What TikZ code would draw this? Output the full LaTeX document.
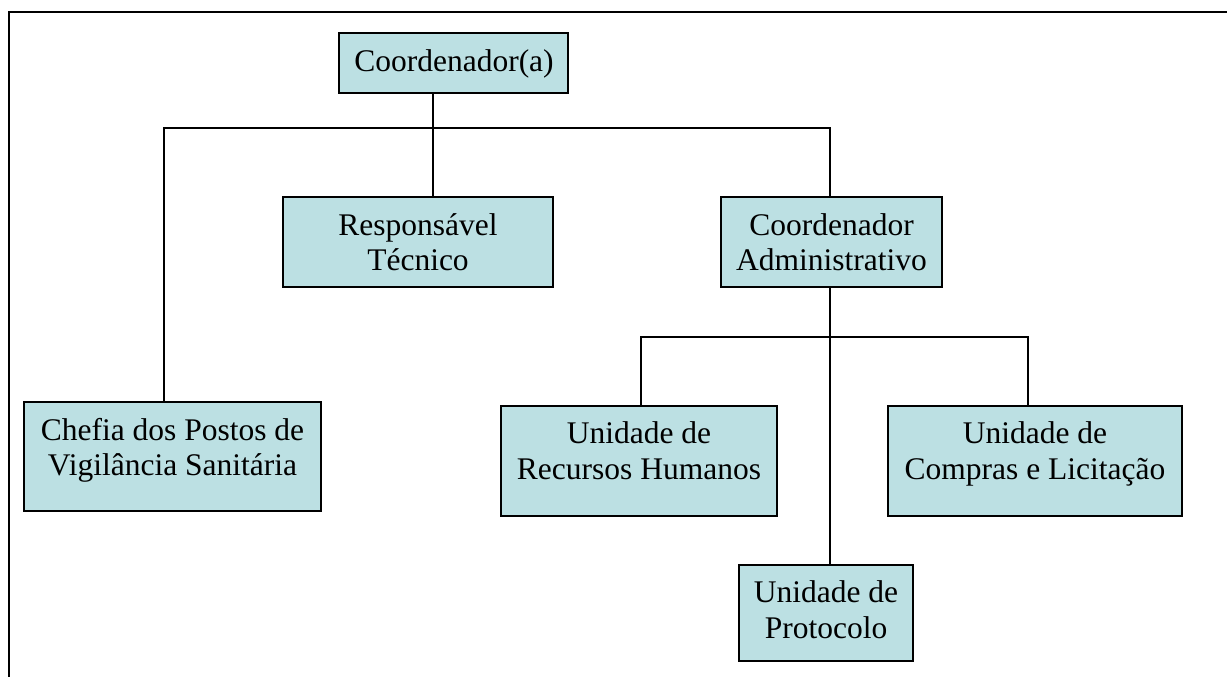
\documentclass[tikz,border=0pt]{standalone}
\usepackage{fontspec}
\setmainfont{Liberation Serif}
\definecolor{boxfill}{RGB}{188,224,227}
\begin{document}
\begin{tikzpicture}[x=1pt,y=-1pt,
  orgbox/.style={draw=black,line width=2.2pt,fill=boxfill,inner sep=0pt,rectangle},
  txt/.style={inner sep=0pt,anchor=base,font=\fontsize{31.5}{36}\selectfont},
  conn/.style={draw=black,line width=2pt},
  frameline/.style={draw=black,line width=2.5pt}]
\useasboundingbox (0,0) rectangle (1227,677);
% frame
\draw[frameline] (1227,12) -- (9,12) -- (9,677);
% boxes
\node[orgbox,minimum width=229pt,minimum height=60pt] (coord) at (453.5,63) {};
\node[orgbox,minimum width=270pt,minimum height=90pt] (resp) at (418,242) {};
\node[orgbox,minimum width=221pt,minimum height=90pt] (cadm) at (831.5,242) {};
\node[orgbox,minimum width=297pt,minimum height=109pt] (chefia) at (172.5,456.5) {};
\node[orgbox,minimum width=276pt,minimum height=110pt] (rh) at (639,461) {};
\node[orgbox,minimum width=294pt,minimum height=110pt] (comp) at (1035,461) {};
\node[orgbox,minimum width=174pt,minimum height=96pt] (prot) at (826,613) {};
% texts
\node[txt] (coord-t1) at (454,71) {Coordenador(a)};
\node[txt] (resp-t1) at (418,235) {Responsável};
\node[txt] (resp-t2) at (418,270.7) {Técnico};
\node[txt] (cadm-t1) at (831.5,235) {Coordenador};
\node[txt] (cadm-t2) at (831.5,270.7) {Administrativo};
\node[txt] (chefia-t1) at (172.5,440) {Chefia dos Postos de};
\node[txt] (chefia-t2) at (172.5,475.7) {Vigilância Sanitária};
\node[txt] (rh-t1) at (639,443.5) {Unidade de};
\node[txt] (rh-t2) at (639,479.2) {Recursos Humanos};
\node[txt] (comp-t1) at (1035,443.5) {Unidade de};
\node[txt] (comp-t2) at (1035,479.2) {Compras e Licitação};
\node[txt] (prot-t1) at (826,602.7) {Unidade de};
\node[txt] (prot-t2) at (826,638.4) {Protocolo};
% connectors
\coordinate (busL) at (163.5,128);
\coordinate (busM) at (433,128);
\coordinate (busR) at (829.5,128);
\coordinate (bus2L) at (641,337);
\coordinate (bus2M) at (829.5,337);
\coordinate (bus2R) at (1028,337);
\draw[conn] (coord.south -| busM) -- (busM |- resp.north);
\draw[conn] (chefia.north -| busL) -- (busL) -- (busR) -- (busR |- cadm.north);
\draw[conn] (cadm.south -| busR) -- (busR |- prot.north);
\draw[conn] (rh.north -| bus2L) -- (bus2L) -- (bus2R) -- (bus2R |- comp.north);
\end{tikzpicture}
\end{document}
